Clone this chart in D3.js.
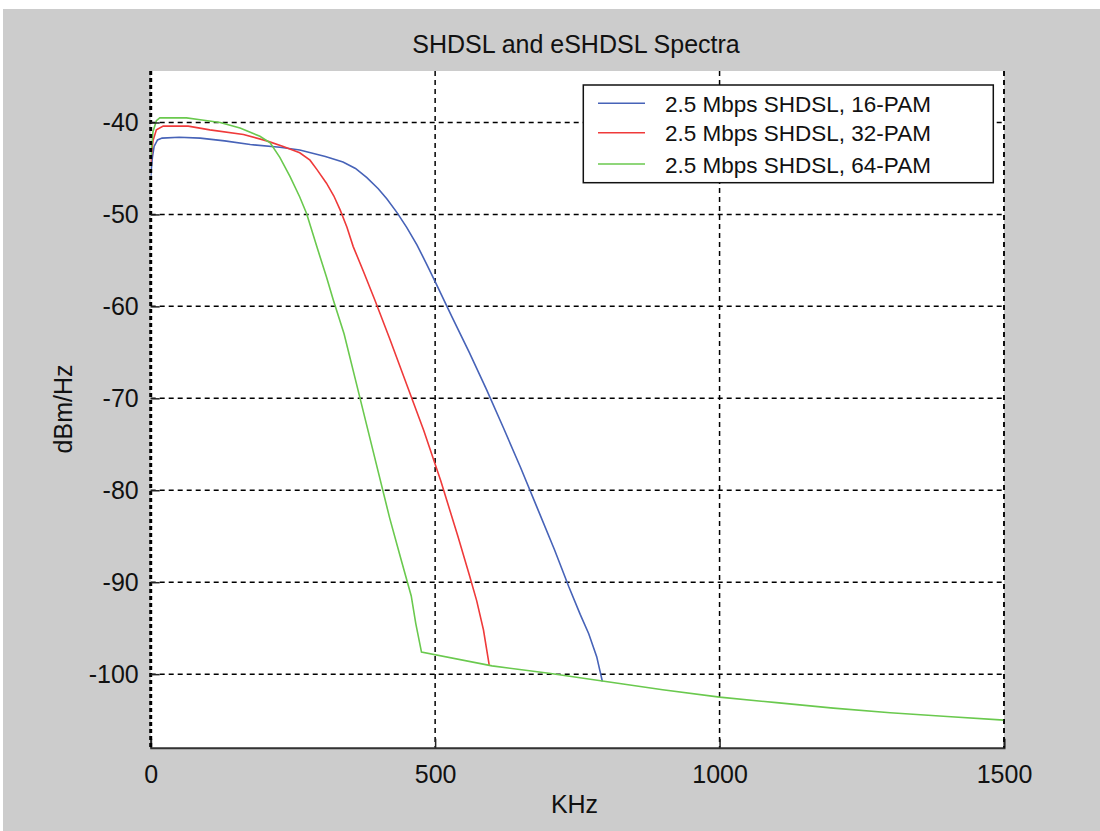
<!DOCTYPE html>
<html><head><meta charset="utf-8">
<script src="https://cdn.jsdelivr.net/npm/d3@7"></script>
<style>body{margin:0;background:#fff}svg{display:block}text{font-family:"Liberation Sans",Arial,sans-serif;fill:#111}</style>
</head><body><svg id="c" width="1100" height="831"></svg>
<script>
const title = "SHDSL and eSHDSL Spectra";
const xLabel = "KHz";
const yLabel = "dBm/Hz";
const xTicks = [0, 500, 1000, 1500];
const yTicks = [-40, -50, -60, -70, -80, -90, -100];
const seriesNames = ["2.5 Mbps SHDSL, 16-PAM", "2.5 Mbps SHDSL, 32-PAM", "2.5 Mbps SHDSL, 64-PAM"];
const seriesColors = ["#4763b8", "#ef3a3a", "#6ac94e"];

// [KHz, dBm/Hz]
const pam16 = [[0,-45.8],[3,-43.8],[6,-42.6],[12,-41.9],[20,-41.7],[50,-41.6],[87,-41.7],[130,-42.0],[175,-42.4],[227,-42.7],[262,-43.0],[307,-43.7],[338,-44.3],[360,-45.0],[380,-46.0],[400,-47.2],[415,-48.3],[433,-49.8],[450,-51.4],[468,-53.3],[485,-55.4],[500,-57.3],[530,-61.2],[560,-65.0],[590,-69.0],[620,-73.2],[650,-77.5],[680,-82.0],[710,-86.5],[735,-90.5],[755,-93.5],[770,-95.6],[784,-98.1],[794,-100.8]];
const pam32 = [[0,-44.3],[4,-42.0],[10,-40.8],[22,-40.4],[66,-40.4],[104,-40.8],[163,-41.3],[204,-42.0],[233,-42.6],[262,-43.3],[280,-44.1],[292,-45.1],[309,-46.6],[322,-48.0],[333,-49.5],[345,-51.4],[356,-53.5],[374,-56.2],[394,-59.3],[420,-63.5],[450,-68.5],[480,-73.5],[510,-79.0],[540,-85.0],[560,-89.2],[573,-92.0],[585,-95.2],[595,-99.0]];
const pam64 = [[0,-44.0],[4,-41.0],[10,-39.8],[16,-39.5],[63,-39.5],[87,-39.7],[122,-40.0],[157,-40.6],[192,-41.5],[210,-42.2],[227,-43.8],[245,-45.9],[262,-48.1],[274,-49.9],[292,-53.5],[309,-56.8],[321,-59.3],[340,-63.0],[360,-68.0],[380,-73.0],[400,-78.0],[420,-83.0],[440,-87.5],[458,-91.5],[466,-94.5],[476,-97.6],[600,-99.1],[700,-99.9],[800,-100.8],[900,-101.7],[1000,-102.5],[1100,-103.1],[1200,-103.7],[1300,-104.2],[1400,-104.6],[1500,-105.0]];
const seriesData = [pam16, pam32, pam64];

const svg = d3.select("#c");
svg.append("rect").attr("x",3).attr("y",9).attr("width",1097).attr("height",822).attr("fill","#cccccc");

const L = 150.7, R = 1004, T = 71, B = 747.7;
const x = d3.scaleLinear().domain([0,1500]).range([L,R]);
const y = d3.scaleLinear().domain([-108,-34.4]).range([B,T]);

svg.append("rect").attr("x",L).attr("y",T).attr("width",R-L).attr("height",B-T).attr("fill","#fff");

// grid
const g = svg.append("g");
g.selectAll(".hg").data(yTicks).join("line")
  .attr("x1",L).attr("x2",R).attr("y1",d=>y(d)).attr("y2",d=>y(d))
  .attr("stroke","#000").attr("stroke-width",1.5).attr("stroke-dasharray","5,4");
g.selectAll(".vg").data(xTicks.filter(d=>d>0)).join("line")
  .attr("y1",T).attr("y2",B).attr("x1",d=>x(d)).attr("x2",d=>x(d))
  .attr("stroke","#000").attr("stroke-width",1.5).attr("stroke-dasharray","5,4");

// lines
const line = d3.line().x(d=>x(d[0])).y(d=>y(d[1]));
svg.append("clipPath").attr("id","cp").append("rect").attr("x",L).attr("y",T).attr("width",R-L+2).attr("height",B-T);
svg.append("g").attr("clip-path","url(#cp)").selectAll("path").data(seriesData).join("path")
  .attr("d",line).attr("fill","none").attr("stroke",(d,i)=>seriesColors[i]).attr("stroke-width",1.6);

const fmt = d => String(d);

// axes
const xAxis = d3.axisBottom(x).tickValues(xTicks).tickFormat(fmt).tickSize(-9).tickPadding(18);
const ax = svg.append("g").attr("transform",`translate(0,${B})`).call(xAxis);
ax.select(".domain").attr("stroke","#333").attr("stroke-width",2);
ax.selectAll(".tick line").attr("stroke","#222").attr("stroke-width",1.5);
ax.selectAll("text").attr("font-size",25).attr("font-family","Liberation Sans, Arial").attr("fill","#111");

const yAxis = d3.axisLeft(y).tickValues(yTicks).tickFormat(fmt).tickSize(-9).tickPadding(12);
const ay = svg.append("g").attr("transform",`translate(${L},0)`).call(yAxis);
ay.select(".domain").attr("stroke","#000").attr("stroke-width",3).attr("stroke-dasharray","4,3").attr("d",`M0,${T}V${B}`);
ay.selectAll(".tick line").attr("stroke","#222").attr("stroke-width",1.5);
ay.selectAll("text").attr("font-size",25).attr("font-family","Liberation Sans, Arial").attr("fill","#111");

// right edge dashed
svg.append("line").attr("x1",R).attr("x2",R).attr("y1",T).attr("y2",B)
  .attr("stroke","#000").attr("stroke-width",1.5).attr("stroke-dasharray","5,4");

// title & labels
svg.append("text").attr("x",576).attr("y",53).attr("text-anchor","middle").attr("font-size",25).text(title);
svg.append("text").attr("x",574.5).attr("y",813).attr("text-anchor","middle").attr("font-size",25).text(xLabel);
svg.append("text").attr("transform","translate(71.5,409) rotate(-90)").attr("text-anchor","middle").attr("font-size",25).text(yLabel);

// legend
const lg = svg.append("g");
lg.append("rect").attr("x",583.3).attr("y",85).attr("width",410).attr("height",97.7).attr("fill","#fff").attr("stroke","#111").attr("stroke-width",1.5);
const rows = [103.3, 132.7, 164];
seriesNames.forEach((n,i)=>{
  lg.append("line").attr("x1",598).attr("x2",645).attr("y1",rows[i]).attr("y2",rows[i]).attr("stroke",seriesColors[i]).attr("stroke-width",1.6);
  lg.append("text").attr("x",665).attr("y",rows[i]+8.5).attr("font-size",22.5).text(n);
});
</script></body></html>
